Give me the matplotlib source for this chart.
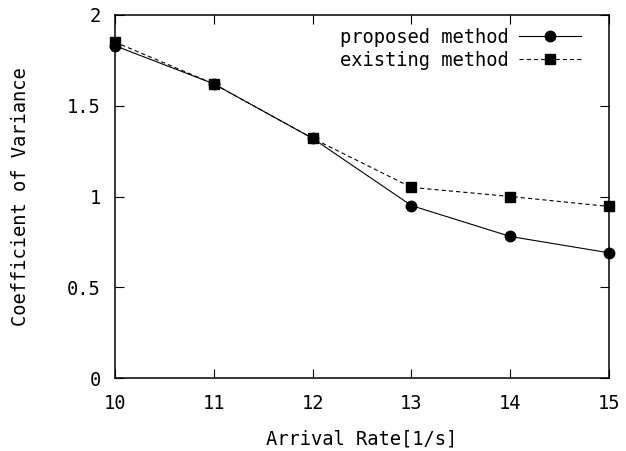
import matplotlib
matplotlib.use("Agg")
import matplotlib.pyplot as plt

arrival_rate = [10, 11, 12, 13, 14, 15]
proposed = [1.83, 1.62, 1.32, 0.95, 0.78, 0.69]
existing = [1.85, 1.62, 1.32, 1.05, 1.00, 0.945]
x_ticks = [10, 11, 12, 13, 14, 15]
y_ticks = [0, 0.5, 1, 1.5, 2]
y_tick_labels = ["0", "0.5", "1", "1.5", "2"]

plt.rcParams['font.family'] = ['DejaVu Sans Mono']
plt.rcParams['lines.scale_dashes'] = False
FS = 13.5

fig = plt.figure(figsize=(6.26, 4.51), dpi=100)
ax = fig.add_axes([114.7/626, 1 - 378.3/451, (609.3-114.7)/626, (378.3-14.7)/451])

ax.plot(arrival_rate, proposed, color='black', lw=0.8, marker='o', ms=7.5,
        label='proposed method', clip_on=False, zorder=3)
ax.plot(arrival_rate, existing, color='black', lw=0.8, ls=(0, (3, 2.2)), marker='s', ms=7.5,
        label='existing method', clip_on=False, zorder=3)

ax.set_xlim(10, 15)
ax.set_ylim(0, 2)
ax.set_xticks(x_ticks)
ax.set_xticklabels([str(v) for v in x_ticks])
ax.set_yticks(y_ticks)
ax.set_yticklabels(y_tick_labels)
ax.tick_params(direction='in', length=6.5, width=0.8, top=True, right=True,
               labelsize=FS, colors='black')
ax.tick_params(axis='y', pad=10)
ax.tick_params(axis='x', pad=11)
for s in ax.spines.values():
    s.set_linewidth(1.1)

ax.set_xlabel('Arrival Rate[1/s]', fontsize=FS, labelpad=12)
ax.set_ylabel('Coefficient of Variance', fontsize=FS, labelpad=27)

leg = ax.legend(loc='upper right', frameon=False, markerfirst=False, fontsize=FS,
                handlelength=3.3, handletextpad=0.55, numpoints=1,
                borderaxespad=0.3, labelspacing=0.2, bbox_to_anchor=(0.97, 1.0))

fig.savefig('out.png', dpi=100)
